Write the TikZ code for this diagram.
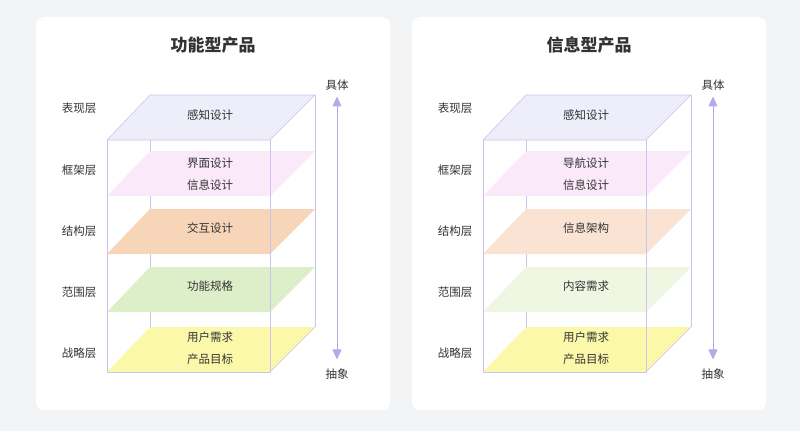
\documentclass[tikz,border=0pt]{standalone}
\usepackage{fontspec}
\setmainfont{Noto Sans CJK SC}
\usetikzlibrary{arrows.meta}
\definecolor{bgc}{HTML}{F3F4F6}
\definecolor{edge}{HTML}{C9C5EE}
\definecolor{arr}{HTML}{B3AAE8}
\definecolor{txt}{HTML}{333333}
\definecolor{toplayer}{HTML}{EEEEFA}
\definecolor{fwL}{HTML}{F9E9F9}
\definecolor{stL}{HTML}{F7D5B9}
\definecolor{scL}{HTML}{DDEFC9}
\definecolor{sgL}{HTML}{FBF8AA}
\definecolor{stR}{HTML}{FAE3D2}
\definecolor{scR}{HTML}{EFF7E3}
\tikzset{
 lbl/.style={font=\fontsize{11.5}{13}\selectfont, text=txt, inner sep=0pt},
 ttl/.style={font=\fontsize{17}{20}\selectfont\bfseries, text=txt},
 card/.style={fill=white, draw=none, rounded corners=8pt},
 bline/.style={draw=edge, line width=0.6pt},
}
\newcommand\mypanel[8]{%
 \node[card, minimum width=354pt, minimum height=393pt, anchor=north west] (card) at (36,17) {};
 \node[ttl] (title) at (213,45) {#5};
 \draw[bline] (150,95) -- (150,327) (315,95) -- (315,327);
 \fill[#4] (150,327) -- (315,327) -- (270,372) -- (107,372) -- cycle;
 \fill[#3] (150,267) -- (315,267) -- (270,312) -- (107,312) -- cycle;
 \fill[#2] (150,209) -- (315,209) -- (270,254) -- (107,254) -- cycle;
 \fill[#1] (150,151) -- (315,151) -- (270,196) -- (107,196) -- cycle;
 \filldraw[fill=toplayer, draw=edge, line width=0.6pt] (150,95) -- (315,95) -- (270,140) -- (107,140) -- cycle;
 \draw[bline] (107,140) -- (107,372) -- (270,372) -- (270,140);
 \draw[bline] (270,372) -- (315,327);
 \node[lbl] (t1) at (210,115) {感知设计};
 \node[lbl] (t2a) at (210,163) {#6};
 \node[lbl] (t2b) at (210,185) {信息设计};
 \node[lbl] (t3) at (210,228) {#7};
 \node[lbl] (t4) at (210,286) {#8};
 \node[lbl] (t5a) at (210,337) {用户需求};
 \node[lbl] (t5b) at (210,359) {产品目标};
 \node[lbl] (l1) at (79,108) {表现层};
 \node[lbl] (l2) at (79,170) {框架层};
 \node[lbl] (l3) at (79,231) {结构层};
 \node[lbl] (l4) at (79,292) {范围层};
 \node[lbl] (l5) at (79,353) {战略层};
 \node[lbl] (top) at (337,85) {具体};
 \node[lbl] (bot) at (337,374) {抽象};
 \draw[arr, line width=1pt, {Triangle[width=9pt,length=10pt]}-{Triangle[width=9pt,length=10pt]}] ([yshift=-6pt]top.south) -- ([yshift=9pt]bot.north);
}
\begin{document}
\begin{tikzpicture}[x=1pt,y=-1pt]
\fill[bgc] (0,0) rectangle (800,431);
\useasboundingbox (0,0) rectangle (800,431);
\begin{scope}[name prefix=L-]
\mypanel{fwL}{stL}{scL}{sgL}{功能型产品}{界面设计}{交互设计}{功能规格}
\end{scope}
\begin{scope}[xshift=376pt, name prefix=R-]
\mypanel{fwL}{stR}{scR}{sgL}{信息型产品}{导航设计}{信息架构}{内容需求}
\end{scope}
\end{tikzpicture}
\end{document}
